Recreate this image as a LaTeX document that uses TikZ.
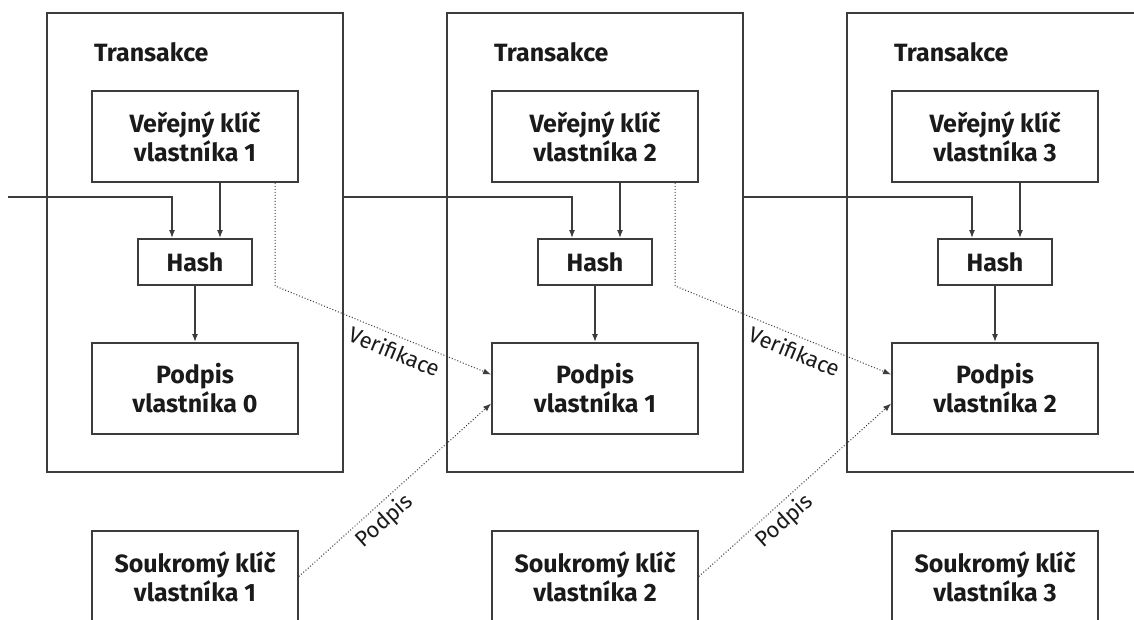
\documentclass[tikz,border=0pt]{standalone}
\usepackage{fontspec}
\setmainfont{Fira Sans}
\usetikzlibrary{arrows.meta}
\definecolor{lc}{HTML}{3C3C3C}
\definecolor{tc}{HTML}{1A1A1A}
\begin{document}
\begin{tikzpicture}[x=1pt,y=-1pt,
  frame/.style={draw=lc, line width=1.8pt, minimum width=296pt, minimum height=459pt, inner sep=0pt},
  box/.style={draw=lc, line width=1.8pt, minimum width=206pt, minimum height=91pt, inner sep=0pt,
    align=center, text=tc, font=\fontsize{25}{29}\selectfont\bfseries},
  hashbox/.style={box, minimum width=114pt, minimum height=46pt},
  title/.style={anchor=base west, inner sep=0pt, text=tc, font=\fontsize{25}{29}\selectfont\bfseries},
  arr/.style={draw=lc, line width=1.4pt, -{Latex[length=8pt,width=6pt]}},
  chain/.style={draw=lc, line width=1.8pt, -{Latex[length=8pt,width=6pt]}},
  dots/.style={draw=lc, line width=1pt, dotted, -{Latex[length=8pt,width=6pt]}},
  lbl/.style={text=tc, font=\fontsize{22}{24}\selectfont, inner sep=1pt}
]
\path[use as bounding box, fill=white] (0,0) rectangle (1134,619);
\clip (0,0) rectangle (1134,619);

\foreach \i/\X in {1/47,2/447,3/847}{
  \node[frame] (t\i) at (\X+148,242.5) {};
  \node[title] (ti\i) at (\X+47,61) {Transakce};
  \node[box] (pub\i) at (\X+148,136.5) {Veřejný klíč\\vlastníka \i};
  \node[hashbox] (hash\i) at (\X+148,262) {Hash};
  \node[box] (priv\i) at (\X+148,576.5) {Soukromý klíč\\vlastníka \i};
}
\node[box] (sig1) at (47+148,388.5) {Podpis\\vlastníka 0};
\node[box] (sig2) at (447+148,388.5) {Podpis\\vlastníka 1};
\node[box] (sig3) at (847+148,388.5) {Podpis\\vlastníka 2};

\coordinate (in0) at (8,197);

\foreach \i in {1,2,3}{
  \draw[arr] ([xshift=25pt]pub\i.south) -- ([xshift=25pt]hash\i.north);
  \draw[arr] (hash\i.south) -- (sig\i.north);
}
\draw[chain] (in0) -| ([xshift=-23pt]hash1.north);
\draw[chain] (t1.east |- in0) -| ([xshift=-23pt]hash2.north);
\draw[chain] (t2.east |- in0) -| ([xshift=-23pt]hash3.north);

\draw[dots] ([xshift=80pt]pub1.south) -- ([xshift=80pt]pub1.south |- hash1.south)
  -- node[lbl, sloped, below=5pt, pos=0.58] {Verifikace} ([yshift=14pt]sig2.west);
\draw[dots] ([xshift=80pt]pub2.south) -- ([xshift=80pt]pub2.south |- hash2.south)
  -- node[lbl, sloped, below=5pt, pos=0.58] {Verifikace} ([yshift=14pt]sig3.west);

\draw[dots] (priv1.east) -- node[lbl, sloped, below=4pt, pos=0.39] {Podpis} ([yshift=-15pt]sig2.west);
\draw[dots] (priv2.east) -- node[lbl, sloped, below=4pt, pos=0.39] {Podpis} ([yshift=-15pt]sig3.west);
\end{tikzpicture}
\end{document}
